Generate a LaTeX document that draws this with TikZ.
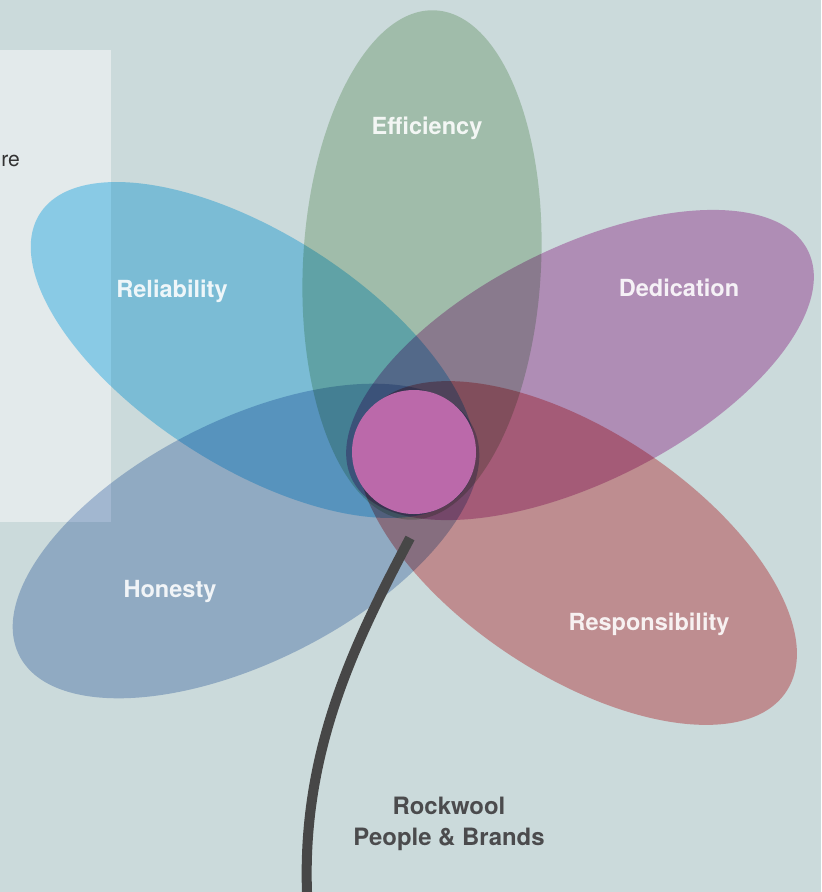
\documentclass[tikz,border=0pt]{standalone}
\usepackage{fontspec}
\setmainfont{TeX Gyre Heros}
\usepackage{xcolor}
\usetikzlibrary{shapes.geometric, positioning}

\definecolor{bgcol}{HTML}{CBDADB}
\definecolor{panelcol}{HTML}{E3EAEB}
\definecolor{effcol}{HTML}{C9DDC7}
\definecolor{relcol}{HTML}{9BDDF9}
\definecolor{dedcol}{HTML}{DDA5D3}
\definecolor{rescol}{HTML}{EFA6A8}
\definecolor{honcol}{HTML}{B6C8E2}
\definecolor{corecol}{HTML}{BB69AA}
\definecolor{stemgray}{HTML}{474747}
\definecolor{brandgray}{HTML}{4B4B4D}

\begin{document}
\begin{tikzpicture}[
        petal/.style={ellipse, fill=#1, inner sep=0pt},
        tag/.style={text=white, text opacity=.88, anchor=base, font=\bfseries\fontsize{13.4}{16}\selectfont},
        stem/.style={draw=stemgray, line width=5.7pt}
    ]
        \fill[bgcol] (0,0) rectangle (16.42,-17.84);
        \useasboundingbox (0,0) rectangle (16.42,-17.84);
        \fill[panelcol] (0,-1) rectangle (2.22,-10.44);
        \node[anchor=base west, inner sep=0pt, text=black!80, font=\fontsize{12}{15}\selectfont] (note) at (0.02,-3.32) {re};

        \begin{scope}[blend mode=multiply]
            \node[petal=honcol, rotate=26.75, minimum width=10.16cm, minimum height=4.84cm] (honesty) at (4.92, -10.82) {};
            \node[petal=rescol, rotate=-33.5, minimum width=10.04cm, minimum height=4.88cm] (responsibility) at (11.54, -11.06) {};
            \node[petal=dedcol, rotate=26.7, minimum width=10.2cm, minimum height=4.68cm] (dedication) at (11.6, -7.3) {};
            \node[petal=relcol, rotate=-32.6, minimum width=10.12cm, minimum height=4.66cm] (reliability) at (5.06, -7.0) {};
            \node[petal=effcol, rotate=87, minimum width=10.2cm, minimum height=4.76cm] (efficiency) at (8.44, -5.3) {};
        \end{scope}

        \node[circle, fill=corecol, inner sep=0pt, minimum size=2.48cm] (core) at (8.28, -9.04) {};

        \coordinate (stemtop) at (8.2, -10.76);
        \coordinate (root) at (6.14, -17.84);
        \draw[stem] (stemtop) .. controls (7.1, -12.84) and (6.04, -15) .. (root);

        \node[tag] (efflabel) at (8.54, -2.68) {Efficiency};
        \node[tag] (rellabel) at (3.44, -5.94) {Reliability};
        \node[tag] (dedlabel) at (13.58, -5.92) {Dedication};
        \node[tag] (honlabel) at (3.40, -11.94) {Honesty};
        \node[tag] (reslabel) at (12.98, -12.6) {Responsibility};
        \node[align=center, text=brandgray, font=\bfseries\fontsize{13.6}{17.6}\selectfont] (brand) at (8.98, -16.48) {Rockwool\\People \& Brands};
    \end{tikzpicture}
\end{document}
